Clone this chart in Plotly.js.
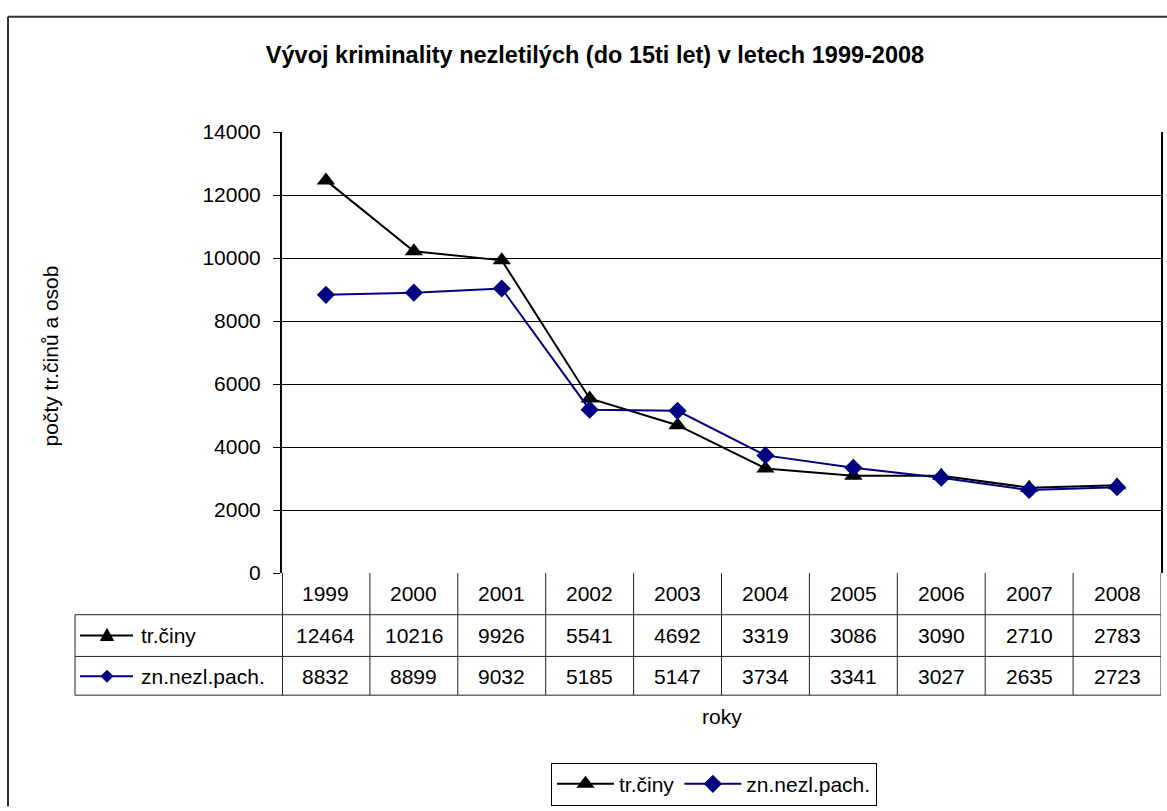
<!DOCTYPE html>
<html>
<head>
<meta charset="utf-8">
<script src="https://cdn.plot.ly/plotly-3.0.1.min.js"></script>
<style>html,body{margin:0;padding:0;background:#fff;overflow:hidden;}#chart{width:1167px;height:811px;}</style>
</head>
<body>
<div id="chart"></div>
<script>
const years = ["1999","2000","2001","2002","2003","2004","2005","2006","2007","2008"];
const trCiny = [12464, 10216, 9926, 5541, 4692, 3319, 3086, 3090, 2710, 2783];
const znNezl = [8832, 8899, 9032, 5185, 5147, 3734, 3341, 3027, 2635, 2723];
const seriesNames = ["tr.činy", "zn.nezl.pach."];
const titleText = "Vývoj kriminality nezletilých (do 15ti let) v letech 1999-2008";
const yTitle = "počty tr.činů a osob";
const xTitle = "roky";

const W = 1167, H = 811;
const L = 282, R = 1161, T = 132, B = 576;
const pw = R - L, ph = B - T;
const px = X => (X - L) / pw;        // pixel -> paper x
const py = Y => (B - Y) / ph;        // pixel -> paper y
const FONT = "Liberation Sans, Arial, sans-serif";
const fs = 21;

const rowY = [576, 618, 660, 699];
const shapes = [];
const ann = [];
const tableColor = "#222";

// outer frame: only its left and top edges are inside the picture
shapes.push({type:"line", xref:"paper", yref:"paper", x0:px(8), x1:px(8), y0:py(16), y1:py(811),
  line:{color:"#333", width:2}});
shapes.push({type:"line", xref:"paper", yref:"paper", x0:px(8), x1:px(1167), y0:py(16), y1:py(16),
  line:{color:"#333", width:2}});

// table horizontal lines
[1,2,3].forEach(i => {
  shapes.push({type:"line", xref:"paper", yref:"paper", x0:px(75), x1:px(R), y0:py(rowY[i]), y1:py(rowY[i]),
    line:{color:tableColor, width:1}});
});
// table left border
shapes.push({type:"line", xref:"paper", yref:"paper", x0:px(75), x1:px(75), y0:py(618), y1:py(699),
  line:{color:tableColor, width:1}});
// column boundaries
for (let k = 0; k <= years.length; k++) {
  const xb = k - 0.5;
  shapes.push({type:"line", xref:"x", yref:"paper", x0:xb, x1:xb, y0:0, y1:py(699),
    line:{color:tableColor, width:(k===0)?2:1}});
}

// table texts
const rowsData = [trCiny, znNezl];
years.forEach((yr, i) => {
  ann.push({xref:"x", yref:"paper", x:i, y:py(597), text:yr, showarrow:false,
    xanchor:"center", yanchor:"middle", font:{family:FONT, size:fs, color:"#000"}});
  rowsData.forEach((arr, r) => {
    ann.push({xref:"x", yref:"paper", x:i, y:py(r===0?639:680), text:String(arr[i]), showarrow:false,
      xanchor:"center", yanchor:"middle", font:{family:FONT, size:fs, color:"#000"}});
  });
});

// table legend keys
const keyColors = ["#000000", "#000080"];
[639, 680].forEach((cy, r) => {
  shapes.push({type:"line", xref:"paper", yref:"paper", x0:px(80), x1:px(133), y0:py(cy), y1:py(cy),
    line:{color:keyColors[r], width:2}});
  let path;
  if (r === 0) {
    path = `M ${px(100.5)} ${py(cy+5)} L ${px(113.5)} ${py(cy+5)} L ${px(107)} ${py(cy-7)} Z`;
  } else {
    path = `M ${px(101)} ${py(cy)} L ${px(107)} ${py(cy-6)} L ${px(113)} ${py(cy)} L ${px(107)} ${py(cy+6)} Z`;
  }
  shapes.push({type:"path", xref:"paper", yref:"paper", path:path,
    fillcolor:keyColors[r], line:{color:keyColors[r], width:1}});
  ann.push({xref:"paper", yref:"paper", x:px(139), y:py(cy), text:seriesNames[r], showarrow:false,
    xanchor:"left", yanchor:"middle", font:{family:FONT, size:fs, color:"#000"}});
});

// axis titles
ann.push({xref:"paper", yref:"paper", x:px(722), y:py(720), text:xTitle, showarrow:false,
  xanchor:"center", yanchor:"middle", font:{family:FONT, size:fs, color:"#000"}});
ann.push({xref:"paper", yref:"paper", x:px(50), y:py(357), text:yTitle, showarrow:false, textangle:-90,
  xanchor:"center", yanchor:"middle", font:{family:FONT, size:fs, color:"#000"}});

const traces = [
  {x: years.map((_, i) => i), y: trCiny, name: seriesNames[0], type:"scatter", mode:"lines+markers",
   line:{color:"#000000", width:2}, marker:{symbol:"triangle-up", size:16, color:"#000000"}},
  {x: years.map((_, i) => i), y: znNezl, name: seriesNames[1], type:"scatter", mode:"lines+markers",
   line:{color:"#000080", width:2}, marker:{symbol:"diamond", size:14, color:"#000080"}}
];

const layout = {
  width: W, height: H,
  margin: {l: L, r: W - R, t: T, b: H - B, pad: 0},
  paper_bgcolor: "#fff", plot_bgcolor: "#fff",
  font: {family: FONT, size: fs, color: "#000"},
  title: {text: "<b>" + titleText + "</b>", x: 595 / W, xanchor: "center", y: 1 - 55 / H, yanchor: "middle",
    yref: "container", xref: "container", font: {family: FONT, size: 23.5, color: "#000"}},
  xaxis: {range: [-0.5, years.length - 0.5], showticklabels: false, showgrid: false, zeroline: false,
    ticks: "", showline: false, fixedrange: true},
  yaxis: {range: [0, 14000], dtick: 2000, tick0: 0, tickformat: "d", showgrid: true, gridcolor: "#000", gridwidth: 1,
    zeroline: false, ticks: "outside", ticklen: 7, tickcolor: "#000", tickwidth: 1, ticklabelstandoff: 8,
    showline: true, linecolor: "#000", linewidth: 2, mirror: true,
    tickfont: {family: FONT, size: fs, color: "#000"}},
  showlegend: true,
  legend: {orientation: "h", x: px(551), y: py(767), xanchor: "left", yanchor: "top",
    bordercolor: "#000", borderwidth: 1, bgcolor: "#fff",
    font: {family: FONT, size: fs, color: "#000"}, itemwidth: 57, tracegroupgap: 0},
  shapes: shapes,
  annotations: ann
};

Plotly.newPlot("chart", traces, layout, {staticPlot: true, displayModeBar: false});
</script>
</body>
</html>
